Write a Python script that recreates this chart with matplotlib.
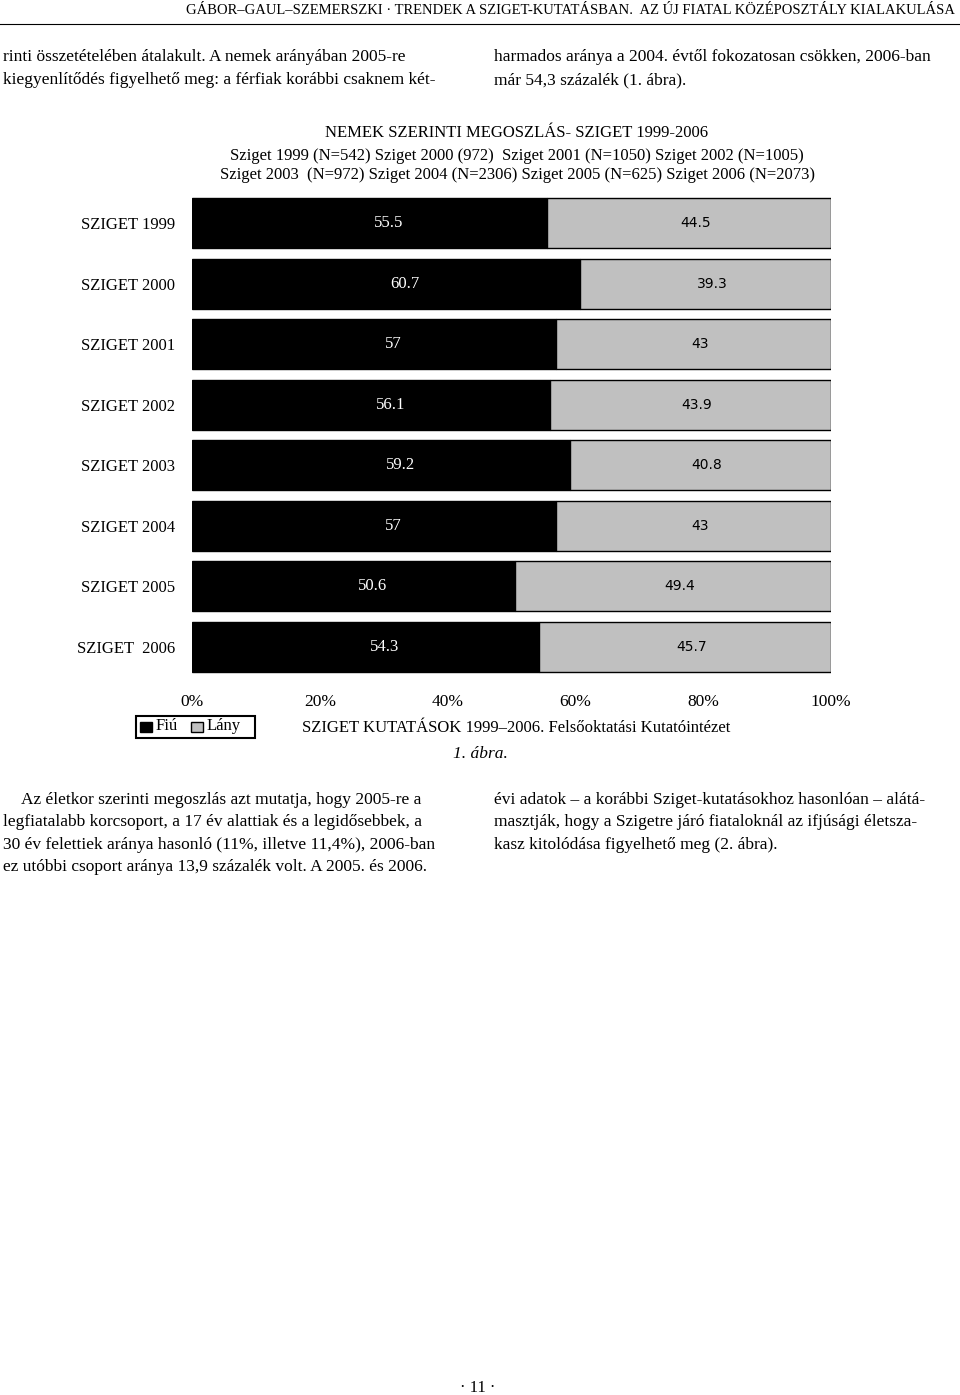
import matplotlib
matplotlib.use("Agg")
import matplotlib.pyplot as plt
from matplotlib.patches import Rectangle

categories = ["SZIGET 1999", "SZIGET 2000", "SZIGET 2001", "SZIGET 2002",
              "SZIGET 2003", "SZIGET 2004", "SZIGET 2005", "SZIGET  2006"]
fiu = [55.5, 60.7, 57, 56.1, 59.2, 57, 50.6, 54.3]
lany = [44.5, 39.3, 43, 43.9, 40.8, 43, 49.4, 45.7]
fiu_labels = ["55.5", "60.7", "57", "56.1", "59.2", "57", "50.6", "54.3"]
lany_labels = ["44.5", "39.3", "43", "43.9", "40.8", "43", "49.4", "45.7"]
xticks = [0, 20, 40, 60, 80, 100]
xticklabels = ["0%", "20%", "40%", "60%", "80%", "100%"]

W, H = 960, 1395
fig = plt.figure(figsize=(9.6, 13.95), dpi=100)
serif = "Liberation Serif"

def T(x, y, s, **kw):
    kw.setdefault("family", serif)
    kw.setdefault("fontsize", 12.5)
    kw.setdefault("va", "center")
    fig.text(x / W, 1 - y / H, s, **kw)

# header
T(955, 10, "GÁBOR–GAUL–SZEMERSZKI · TRENDEK A SZIGET-KUTATÁSBAN.  AZ ÚJ FIATAL KÖZÉPOSZTÁLY KIALAKULÁSA",
  ha="right", fontsize=10.5)
fig.add_artist(plt.Line2D([0, 1], [1 - 24 / H] * 2, color="black", lw=0.8))
T(3, 57, "rinti összetételében átalakult. A nemek arányában 2005-re", ha="left")
T(3, 80, "kiegyenlítődés figyelhető meg: a férfiak korábbi csaknem két-", ha="left")
T(494, 57, "harmados aránya a 2004. évtől fokozatosan csökken, 2006-ban", ha="left")
T(494, 80, "már 54,3 százalék (1. ábra).", ha="left")

# chart titles
T(517, 133, "NEMEK SZERINTI MEGOSZLÁS- SZIGET 1999-2006", ha="center", fontsize=12)
T(517, 156, "Sziget 1999 (N=542) Sziget 2000 (972)  Sziget 2001 (N=1050) Sziget 2002 (N=1005)", ha="center", fontsize=12)
T(517, 175, "Sziget 2003  (N=972) Sziget 2004 (N=2306) Sziget 2005 (N=625) Sziget 2006 (N=2073)", ha="center", fontsize=12)

ax = fig.add_axes([192 / W, 1 - 677 / H, 639 / W, 484 / H])
ys = list(range(len(categories)))
ax.barh(ys, fiu, height=0.83, color="black", edgecolor="black", lw=1)
ax.barh(ys, lany, left=fiu, height=0.83, color="#c0c0c0", edgecolor="black", lw=1)
for i in ys:
    ax.text(fiu[i] * 0.5 + 3, i, fiu_labels[i], color="white", ha="center", va="center",
            family=serif, fontsize=12)
    ax.text(fiu[i] + lany[i] * 0.5 + 1, i, lany_labels[i], color="black", ha="center", va="center",
            family="DejaVu Sans", fontsize=10)
ax.set_xlim(0, 100)
ax.set_ylim(len(categories) - 0.5, -0.5)
ax.set_yticks(ys)
ax.set_yticklabels(categories, family=serif, fontsize=12)
ax.set_xticks(xticks)
ax.set_xticklabels(xticklabels, family=serif, fontsize=12.5)
ax.tick_params(length=0, pad=12)
ax.tick_params(axis="x", pad=12)
for s in ax.spines.values():
    s.set_visible(False)

# legend box
fig.add_artist(Rectangle((136 / W, 1 - 738 / H), 119 / W, 22 / H, fill=False, lw=1.5, color="black"))
fig.add_artist(Rectangle((140 / W, 1 - 732 / H), 12 / W, 10 / H, color="black"))
T(156, 726, "Fiú", ha="left", fontsize=12)
fig.add_artist(Rectangle((191 / W, 1 - 732 / H), 12 / W, 10 / H, facecolor="#c0c0c0", edgecolor="black", lw=1))
T(207, 726, "Lány", ha="left", fontsize=12)
T(302, 728, "SZIGET KUTATÁSOK 1999–2006. Felsőoktatási Kutatóintézet", ha="left", fontsize=12)
T(480, 754, "1. ábra.", ha="center", style="italic", fontsize=12.5)

T(21, 800, "Az életkor szerinti megoszlás azt mutatja, hogy 2005-re a", ha="left")
T(3, 822, "legfiatalabb korcsoport, a 17 év alattiak és a legidősebbek, a", ha="left")
T(3, 845, "30 év felettiek aránya hasonló (11%, illetve 11,4%), 2006-ban", ha="left")
T(3, 867, "ez utóbbi csoport aránya 13,9 százalék volt. A 2005. és 2006.", ha="left")
T(494, 800, "évi adatok – a korábbi Sziget-kutatásokhoz hasonlóan – alátá-", ha="left")
T(494, 822, "masztják, hogy a Szigetre járó fiataloknál az ifjúsági életsza-", ha="left")
T(494, 845, "kasz kitolódása figyelhető meg (2. ábra).", ha="left")
T(478, 1388, "· 11 ·", ha="center", fontsize=12)

fig.savefig("out.png", dpi=100)
